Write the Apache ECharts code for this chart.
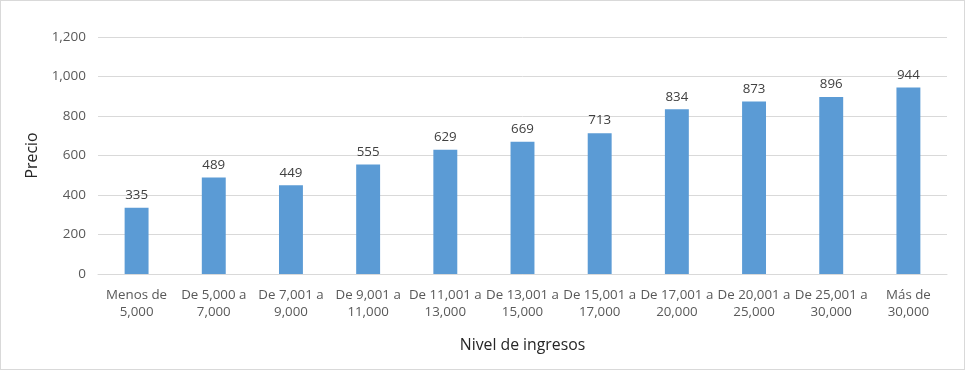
<!DOCTYPE html>
<html><head><meta charset="utf-8">
<script src="https://cdn.jsdelivr.net/npm/echarts@6/dist/echarts.min.js"></script>
<style>
html,body{margin:0;padding:0;background:#fff;}
#c{width:963px;height:368px;border:1px solid #d9d9d9;}
</style></head>
<body><div id="c"></div>
<script>
const categories = ["Menos de\n5,000","De 5,000 a\n7,000","De 7,001 a\n9,000","De 9,001 a\n11,000","De 11,001 a\n13,000","De 13,001 a\n15,000","De 15,001 a\n17,000","De 17,001 a\n20,000","De 20,001 a\n25,000","De 25,001 a\n30,000","Más de\n30,000"];
const precios = [335,489,449,555,629,669,713,834,873,896,944];
const yTicks = [0,200,400,600,800,1000,1200];

const chart = echarts.init(document.getElementById('c'));
const font = "'Open Sans', 'Liberation Sans', sans-serif";
chart.setOption({
  animation:false,
  textStyle:{fontFamily:font},
  grid:{left:97,right:17,top:36,bottom:95},
  xAxis:{
    type:'category', data:categories,
    axisTick:{show:false},
    axisLine:{lineStyle:{color:'#d9d9d9'}},
    axisLabel:{color:'#595959',fontSize:13.3,fontFamily:font,lineHeight:17,margin:13,interval:0},
    name:'Nivel de ingresos', nameLocation:'middle', nameGap:63,
    nameTextStyle:{color:'#262626',fontSize:15.8,fontFamily:font}
  },
  yAxis:{
    type:'value', min:yTicks[0], max:yTicks[yTicks.length-1], interval:200,
    axisLine:{show:false}, axisTick:{show:false},
    splitLine:{lineStyle:{color:'#d9d9d9'}},
    axisLabel:{color:'#595959',fontSize:13.5,fontFamily:font,margin:12,
      formatter:v=>v.toLocaleString('en-US')},
    name:'Precio', nameLocation:'middle', nameGap:57,
    nameTextStyle:{color:'#262626',fontSize:15.8,fontFamily:font}
  },
  series:[{
    type:'bar', data:precios, barWidth:'31%',
    itemStyle:{color:'#5b9bd5'},
    label:{show:true,position:'top',distance:6,color:'#404040',fontSize:13.3,fontFamily:font}
  }]
});
</script></body></html>
